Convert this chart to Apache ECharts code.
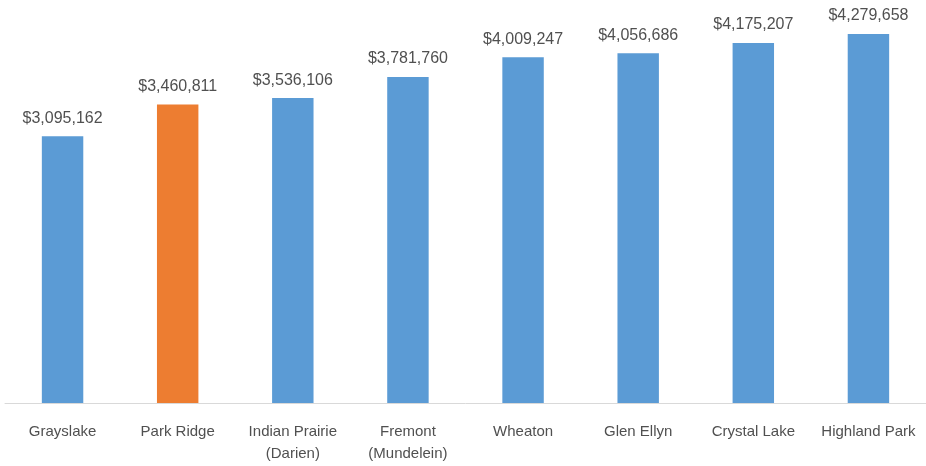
<!DOCTYPE html>
<html>
<head>
<meta charset="utf-8">
<script src="https://cdn.jsdelivr.net/npm/echarts@6/dist/echarts.min.js"></script>
<style>
  html, body { margin: 0; padding: 0; background: #fff; }
  #chart { width: 926px; height: 466px; }
</style>
</head>
<body>
<div id="chart"></div>
<script>
// districts, left to right
const categories = ['Grayslake', 'Park Ridge', 'Indian Prairie\n(Darien)', 'Fremont\n(Mundelein)', 'Wheaton', 'Glen Ellyn', 'Crystal Lake', 'Highland Park']
const values = [3095162, 3460811, 3536106, 3781760, 4009247, 4056686, 4175207, 4279658]
const highlight = 'Park Ridge'

const font = "'Liberation Sans', Arial, sans-serif"

let myEchart = echarts.init(document.getElementById('chart'))
myEchart.setOption({
  animation: false,
  grid: {
    left: 5,
    top: 15,
    width: 932,
    bottom: 63
  },
  xAxis: {
    type: 'category',
    data: categories,
    axisLine: { lineStyle: { color: '#d9d9d9', width: 1 } },
    axisTick: { show: false },
    axisLabel: {
      interval: 0,
      margin: 18,
      color: '#505050',
      fontFamily: font,
      fontSize: 15,
      lineHeight: 22
    }
  },
  yAxis: {
    type: 'value',
    min: 0,
    max: 4500000,
    show: false,
    splitLine: { show: false }
  },
  series: [
    {
      type: 'bar',
      barWidth: '36%',
      data: values.map((v, i) => ({
        value: v,
        itemStyle: { color: categories[i] === highlight ? '#ed7d31' : '#5b9bd5' }
      })),
      label: {
        show: true,
        position: 'top',
        distance: 10,
        color: '#505050',
        fontFamily: font,
        fontSize: 16,
        formatter: (p) => '$' + p.value.toLocaleString('en-US')
      }
    }
  ]
})
</script>
</body>
</html>
